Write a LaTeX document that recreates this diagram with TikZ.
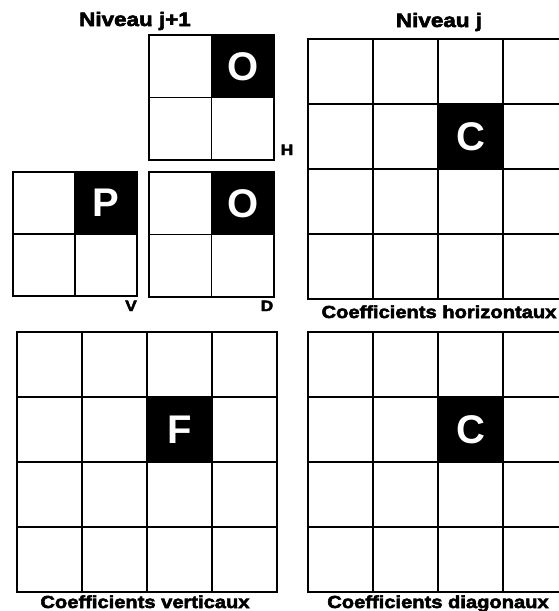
\documentclass[tikz,border=0pt]{standalone}
\usepackage{fontspec}
\newfontfamily\labfont{Liberation Sans Bold}[FakeStretch=1.15,FakeBold=3]
\newfontfamily\cellfont{Liberation Sans Bold}
\usetikzlibrary{positioning}

\tikzset{
  gridline/.style={line width=1.8pt},
  blackcell/.style={fill=black, text=white, inner sep=0pt, font=\cellfont\fontsize{40}{40}\selectfont},
  biglabel/.style={anchor=base, inner sep=0pt, font=\labfont\fontsize{17.5}{17.5}\selectfont},
  titlelabel/.style={biglabel, font=\labfont\fontsize{19.5}{19.5}\selectfont},
  smalllabel/.style={anchor=base, inner sep=0pt, font=\labfont\fontsize{15}{15}\selectfont}
}

\begin{document}
\begin{tikzpicture}[x=1pt, y=1pt]
    \useasboundingbox (0,0) rectangle (558,-611);
    % black cells
    \node[blackcell, minimum size=62.5pt] (ho) at (242.75,-66.25) {O};
    \node[blackcell, minimum size=62pt] (vp) at (106,-203) {P};
    \node[blackcell, minimum size=62.5pt] (do) at (242.75,-203.25) {O};
    \node[blackcell, minimum size=65pt] (hc) at (470.5,-136.5) {C};
    \node[blackcell, minimum size=65pt] (vf) at (179.5,-429.5) {F};
    \node[blackcell, minimum size=65pt] (dc) at (470.5,-429.5) {C};
    % niveau j+1
    \begin{scope}[shift={(149,-160)}]
        \draw[gridline] (0,0) rectangle (125,125) (62.5,0) -- (62.5,125) (0,62.5) -- (125,62.5);
    \end{scope}
    \begin{scope}[shift={(13,-296)}]
        \draw[gridline] (0,0) rectangle (124,124) (62,0) -- (62,124) (0,62) -- (124,62);
    \end{scope}
    \begin{scope}[shift={(149,-297)}]
        \draw[gridline] (0,0) rectangle (125,125) (62.5,0) -- (62.5,125) (0,62.5) -- (125,62.5);
    \end{scope}
    % niveau j
    \begin{scope}[shift={(308,-299)}]
        \draw[gridline] (0,0) grid[step=65] (260,260);
        \draw[gridline] (0,0) rectangle (260,260);
    \end{scope}
    \begin{scope}[shift={(17,-592)}]
        \draw[gridline] (0,0) grid[step=65] (260,260);
        \draw[gridline] (0,0) rectangle (260,260);
    \end{scope}
    \begin{scope}[shift={(308,-592)}]
        \draw[gridline] (0,0) grid[step=65] (260,260);
        \draw[gridline] (0,0) rectangle (260,260);
    \end{scope}
    % labels
    \node[titlelabel] (nivjp) at (135,-26) {Niveau j+1};
    \node[titlelabel] (nivj) at (439,-27) {Niveau j};
    \node[smalllabel] (lh) at (287,-155) {H};
    \node[smalllabel] (lv) at (131,-311) {V};
    \node[smalllabel] (ld) at (267,-311) {D};
    \node[biglabel] (coefh) at (439,-318) {Coefficients horizontaux};
    \node[biglabel] (coefv) at (145,-608) {Coefficients verticaux};
    \node[biglabel] (coefd) at (438,-608) {Coefficients diagonaux};
\end{tikzpicture}
\end{document}
